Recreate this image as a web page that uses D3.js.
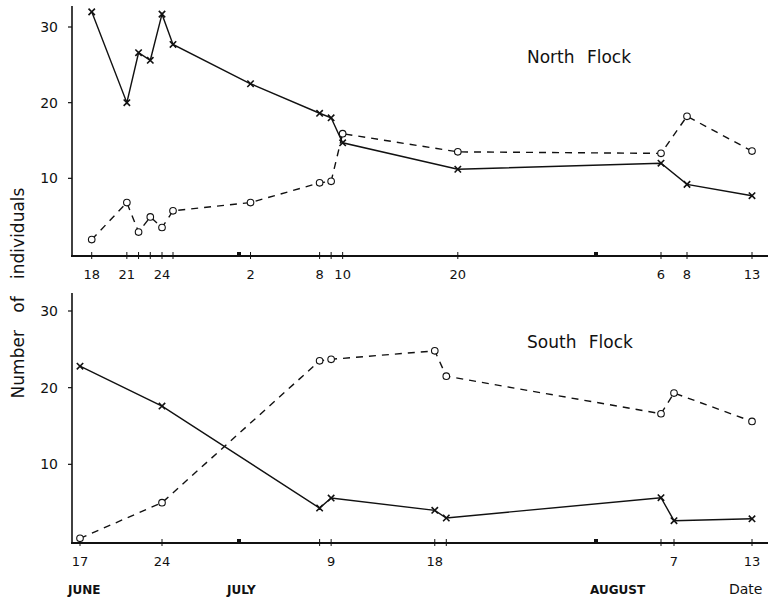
<!DOCTYPE html>
<html><head><meta charset="utf-8">
<script src="https://cdn.jsdelivr.net/npm/d3@7"></script>
<style>body{margin:0;background:#fff}svg{display:block}text{font-family:"DejaVu Sans",sans-serif;fill:#111}</style>
</head><body><svg id="c" width="768" height="600"></svg>
<script>
// ---- data ----
const northDates = ["06-18","06-21","06-22","06-23","06-24","06-25","07-02","07-08","07-09","07-10","07-20","08-06","08-08","08-13"];
const northCross  = [32, 20, 26.6, 25.6, 31.7, 27.7, 22.5, 18.6, 18.0, 14.7, 11.2, 12.0, 9.2, 7.7];
const northCircle = [1.9, 6.8, 2.9, 4.9, 3.5, 5.7, 6.8, 9.4, 9.6, 15.9, 13.5, 13.3, 18.2, 13.6];
const southDates = ["06-17","06-24","07-08","07-09","07-18","07-19","08-06","08-07","08-13"];
const southCross  = [22.8, 17.6, 4.3, 5.6, 4.0, 3.0, 5.65, 2.65, 2.9];
const southCircle = [0.35, 5.0, 23.5, 23.7, 24.8, 21.5, 16.6, 19.3, 15.6];
const northTickDates = ["06-18","06-21","06-24","07-02","07-08","07-10","07-20","08-06","08-08","08-13"];
const southTickDates = ["06-17","06-24","07-09","07-18","08-07","08-13"];
const monthDates = ["07-01","08-01"];
const monthLabels = [["06-17","JUNE"],["07-01","JULY"],["08-01","AUGUST"]];
const yTicks = [10, 20, 30];

const toDate = s => { const [m,d] = s.split("-").map(Number); return new Date(1950, m-1, d); };

const svg = d3.select("#c");
const x = d3.scaleTime()
  .domain([toDate("06-17"), toDate("06-24"), toDate("07-01"), toDate("08-01"), toDate("08-13")])
  .range([80, 162, 239, 596, 752]);

function panel(cfg){
  const y = d3.scaleLinear().domain([0,30]).range([cfg.y0, cfg.y30]);
  const g = svg.append("g");
  g.append("line").attr("x1",72).attr("x2",72).attr("y1",cfg.top).attr("y2",cfg.y0+2)
    .attr("stroke","#111").attr("stroke-width",1.6);
  yTicks.forEach(t=>{
    g.append("line").attr("x1",68).attr("x2",72).attr("y1",y(t)).attr("y2",y(t)).attr("stroke","#111").attr("stroke-width",1.2);
    g.append("text").attr("x",58).attr("y",y(t)+5).attr("text-anchor","end").attr("font-size",14).text(t);
  });
  g.append("line").attr("x1",71).attr("x2",768).attr("y1",cfg.y0+2).attr("y2",cfg.y0+2)
    .attr("stroke","#111").attr("stroke-width",2.2);
  cfg.dates.forEach(d=>{
    g.append("line").attr("x1",x(toDate(d))).attr("x2",x(toDate(d))).attr("y1",cfg.y0-2).attr("y2",cfg.y0+5)
      .attr("stroke","#111").attr("stroke-width",1);
  });
  monthDates.forEach(d=>{
    g.append("rect").attr("x",x(toDate(d))-2).attr("y",cfg.y0-2).attr("width",4).attr("height",4).attr("fill","#111");
  });
  cfg.tickDates.forEach(d=>{
    g.append("text").attr("x",x(toDate(d))).attr("y",cfg.y0+25).attr("text-anchor","middle")
      .attr("font-size",13).text(+d.split("-")[1]);
  });
  const pts = arr => arr.map((v,i)=>[x(toDate(cfg.dates[i])), y(v)]);
  const line = d3.line().curve(d3.curveLinear);
  g.append("path").attr("d",line(pts(cfg.circle))).attr("fill","none").attr("stroke","#111")
    .attr("stroke-width",1.4).attr("stroke-dasharray","7,6");
  g.append("path").attr("d",line(pts(cfg.cross))).attr("fill","none").attr("stroke","#111")
    .attr("stroke-width",1.4);
  pts(cfg.circle).forEach(([px,py])=>{
    g.append("circle").attr("cx",px).attr("cy",py).attr("r",3.3).attr("fill","#fff")
      .attr("stroke","#111").attr("stroke-width",1.1);
  });
  pts(cfg.cross).forEach(([px,py])=>{
    const s=3.2;
    g.append("path").attr("d",`M${px-s},${py-s}L${px+s},${py+s}M${px-s},${py+s}L${px+s},${py-s}`)
      .attr("stroke","#111").attr("stroke-width",1.6).attr("fill","none");
  });
  g.append("text").attr("x",527).attr("y",cfg.titleY).attr("font-size",17).attr("word-spacing",7).text(cfg.title);
}

panel({y0:254, y30:27, top:6, dates:northDates, tickDates:northTickDates,
  cross:northCross, circle:northCircle, title:"North Flock", titleY:63});
panel({y0:541, y30:311, top:293, dates:southDates, tickDates:southTickDates,
  cross:southCross, circle:southCircle, title:"South Flock", titleY:348});

monthLabels.forEach(([d,l],i)=>{
  svg.append("text").attr("x",x(toDate(d))-(i===2?6:12)).attr("y",594).attr("text-anchor","start")
    .attr("font-size",12).attr("font-weight","bold").text(l);
});
svg.append("text").attr("x",729).attr("y",594).attr("font-size",14).text("Date");
svg.append("text").attr("transform","translate(24,293) rotate(-90)").attr("text-anchor","middle")
  .attr("font-size",17).attr("word-spacing",12).text("Number of individuals");
</script></body></html>
